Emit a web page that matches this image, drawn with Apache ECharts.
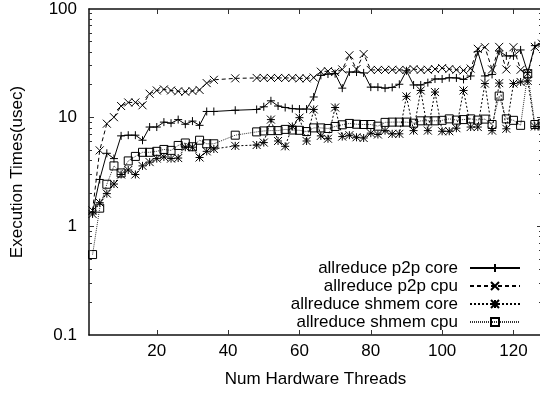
<!DOCTYPE html>
<html>
<head>
<meta charset="utf-8">
<script src="https://cdn.jsdelivr.net/npm/echarts@6/dist/echarts.min.js"></script>
<style>
html,body{margin:0;padding:0;background:#fff;}
#chart{width:540px;height:394px;}
</style>
</head>
<body>
<div id="chart"></div>
<script>
// Thread counts that were measured
const threads = [2,4,6,8,10,12,14,16,18,20,22,24,26,28,30,32,34,36,42,
  48,50,52,54,56,58,60,62,64,66,68,70,72,74,76,78,80,82,84,86,88,90,
  92,94,96,98,100,102,104,106,108,110,112,114,116,118,120,122,124,126,128];

// Execution times in microseconds, one value per thread count
const p2pCore = [1.35,2.7,4.7,4.2,6.8,6.9,6.9,6.2,8.2,8.2,9.1,8.9,9.6,8.7,9.3,8.5,11.4,11.4,11.7,
  11.9,12.6,14.3,12.8,12.4,12.1,12.0,12.0,15.5,24.5,25.2,25.4,18.7,26.3,26.3,25.8,19.1,19.1,18.7,19.0,20.3,27.0,
  20.0,20.0,21.0,22.7,22.7,23.3,23.2,22.5,24.2,40.5,24.2,25.0,41.0,37.0,37.0,42.0,26.0,46.0,48.0];
const p2pCpu = [1.4,5.0,8.8,10.1,12.8,13.8,13.8,13.0,16.6,17.8,18.2,17.8,17.5,17.3,17.6,18.0,20.8,22.3,23.0,
  23.2,23.2,23.2,23.2,23.2,23.2,23.0,23.0,23.4,26.5,26.8,26.3,27.8,37.5,28.0,38.5,27.5,27.5,27.5,27.6,27.5,27.5,
  28.0,27.5,27.6,28.0,28.6,28.0,27.6,27.2,28.3,43.0,44.5,27.8,44.8,27.8,44.5,27.6,25.5,44.8,48.0];
const shmemCore = [1.3,1.65,2.0,2.45,3.0,3.3,3.0,3.6,3.9,4.2,4.35,4.2,4.25,5.35,5.35,4.3,4.9,5.15,5.5,
  5.6,5.9,9.6,6.1,5.45,8.3,10.0,6.1,11.9,6.8,6.4,12.4,6.7,6.9,6.6,6.5,7.2,7.0,7.6,7.1,7.1,15.7,
  7.6,17.8,7.6,17.2,7.5,7.5,8.0,17.8,8.2,8.2,20.6,7.6,20.8,7.9,20.6,21.3,21.8,8.3,8.3];
const shmemCpu = [0.55,1.47,2.44,3.6,3.1,4.0,4.4,4.8,4.8,4.9,5.1,5.0,5.55,5.85,5.4,6.2,5.75,5.75,6.9,
  7.4,7.55,7.6,7.6,7.8,7.7,7.65,7.45,8.05,8.05,7.95,8.3,8.6,8.85,8.7,8.65,8.65,8.35,9.05,9.1,9.1,9.1,
  8.9,9.35,9.35,9.35,9.45,9.75,9.5,9.6,9.75,9.5,9.7,8.65,15.8,9.75,9.45,8.5,25.4,8.65,8.8];

const seriesNames = ['allreduce p2p core', 'allreduce p2p cpu', 'allreduce shmem core', 'allreduce shmem cpu'];

// Tick positions
const xTicks = [20, 40, 60, 80, 100, 120];
const yMajorTicks = [0.1, 1, 10, 100];
const yMinorTicks = [0.2,0.3,0.4,0.5,0.6,0.7,0.8,0.9,2,3,4,5,6,7,8,9,20,30,40,50,60,70,80,90];

const X_MIN = 1, X_MAX = 128;
const FONT = "'Liberation Sans', Arial, Helvetica, sans-serif";

// Point shapes drawn as outlines
const marks = {
  plus: 'path://M0,5L10,5M5,0L5,10',
  cross: 'path://M0,0L10,10M10,0L0,10',
  star: 'path://M0,5L10,5M5,0L5,10M0,0L10,10M10,0L0,10',
  box: 'path://M0,0L10,0L10,10L0,10Z'
};

function lineSeries(name, values, symbol, size, dash, color) {
  return {
    name: name,
    type: 'line',
    data: threads.map((t, i) => [t, values[i]]),
    symbol: symbol,
    symbolSize: size,
    lineStyle: { color: color, width: 1, type: dash },
    itemStyle: { color: 'rgba(0,0,0,0)', borderColor: '#000', borderWidth: 1 },
    emphasis: { disabled: true },
    animation: false
  };
}

const chart = echarts.init(document.getElementById('chart'), null, { renderer: 'canvas' });

const borderStyle = { color: '#111', width: 1.5 };
const tickStyle = { color: '#333', width: 1 };

chart.setOption({
  backgroundColor: '#fff',
  animation: false,
  textStyle: { fontFamily: FONT, color: '#000' },
  grid: { left: 89, top: 9, width: 453, height: 326, outerBoundsMode: 'none', containLabel: false },
  legend: {
    data: seriesNames,
    orient: 'vertical',
    align: 'right',
    right: 19,
    top: 259,
    padding: 0,
    itemGap: 0,
    itemWidth: 50,
    itemHeight: 10,
    selectedMode: false,
    textStyle: { fontFamily: FONT, fontSize: 17, color: '#000', lineHeight: 18, padding: [0, 7, 0, 0] }
  },
  xAxis: [
    {
      type: 'value', position: 'bottom', min: X_MIN, max: X_MAX,
      name: 'Num Hardware Threads', nameLocation: 'middle', nameGap: 36,
      nameTextStyle: { fontFamily: FONT, fontSize: 17, color: '#000' },
      axisLine: { show: true, lineStyle: borderStyle },
      axisTick: { show: true, inside: true, length: 5, lineStyle: tickStyle, customValues: xTicks },
      axisLabel: { show: true, margin: 8, fontFamily: FONT, fontSize: 17, color: '#000', customValues: xTicks },
      splitLine: { show: false }
    },
    {
      type: 'value', position: 'top', min: X_MIN, max: X_MAX,
      axisLine: { show: true, lineStyle: borderStyle },
      axisTick: { show: true, inside: true, length: 5, lineStyle: tickStyle, customValues: xTicks },
      axisLabel: { show: false },
      splitLine: { show: false }
    }
  ],
  yAxis: [
    {
      type: 'log', logBase: 10, min: 0.1, max: 100, position: 'left',
      name: 'Execution Times(usec)', nameLocation: 'middle', nameGap: 63,
      nameTextStyle: { fontFamily: FONT, fontSize: 17, color: '#000' },
      axisLine: { show: true, lineStyle: borderStyle },
      axisTick: { show: false },
      axisLabel: { show: true, margin: 12, fontFamily: FONT, fontSize: 17, color: '#000' },
      splitLine: { show: false }
    },
    {
      type: 'log', logBase: 10, min: 0.1, max: 100, position: 'right',
      axisLine: { show: true, lineStyle: borderStyle },
      axisTick: { show: false },
      axisLabel: { show: false },
      splitLine: { show: false }
    }
  ],
  series: [
    lineSeries(seriesNames[0], p2pCore, marks.plus, 8, 'solid', '#000'),
    lineSeries(seriesNames[1], p2pCpu, marks.cross, 8, [4, 3], '#000'),
    lineSeries(seriesNames[2], shmemCore, marks.star, 8, [2, 2], '#000'),
    lineSeries(seriesNames[3], shmemCpu, marks.box, 8, [1, 1], '#333')
  ]
});

// Inward tick marks on both log-scale borders (longer for decades, short in between),
// positioned through the chart's own axis conversion
const xLeft = chart.convertToPixel({ xAxisIndex: 0 }, X_MIN);
const xRight = chart.convertToPixel({ xAxisIndex: 0 }, X_MAX);
const tickLines = [];
function addTicks(values, len) {
  values.forEach(function (v) {
    const py = Math.round(chart.convertToPixel({ yAxisIndex: 0 }, v) - 0.5) + 0.5;
    tickLines.push({ type: 'line', silent: true, z: 10,
      shape: { x1: xLeft, y1: py, x2: xLeft + len, y2: py }, style: { stroke: '#333', lineWidth: 1 } });
    tickLines.push({ type: 'line', silent: true, z: 10,
      shape: { x1: xRight - len, y1: py, x2: xRight, y2: py }, style: { stroke: '#333', lineWidth: 1 } });
  });
}
addTicks(yMajorTicks.slice(1, 3), 5);
addTicks(yMinorTicks, 3);
chart.setOption({ graphic: tickLines });
</script>
</body>
</html>
